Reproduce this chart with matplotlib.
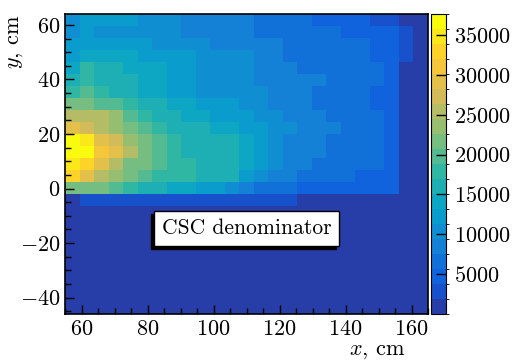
import numpy as np
import matplotlib
matplotlib.use('Agg')
import matplotlib.pyplot as plt
import matplotlib.transforms as mtransforms
from matplotlib.colors import LinearSegmentedColormap, ListedColormap, BoundaryNorm

plt.rcParams['font.family'] = 'serif'
plt.rcParams['font.serif'] = ['cmr10']
plt.rcParams['mathtext.fontset'] = 'cm'
plt.rcParams['axes.formatter.use_mathtext'] = True

# histogram binning (25 x 25)
x_edges = np.linspace(55, 165, 26)
y_edges = np.linspace(-46, 64, 26)

# bin contents in thousands, rows from top (y ~ 62) to bottom (y ~ -44)
counts_k = [
    [10.4, 12.2, 12.2, 12.2, 12.2, 10.4, 10.4, 10.4, 8.5, 8.5, 8.5, 8.5, 8.5, 6.6, 6.6, 6.6, 6.6, 4.7, 4.7, 4.7, 4.7, 2.8, 2.8, 0, 0],
    [10.4, 12.2, 10.4, 10.4, 10.4, 10.4, 10.4, 10.4, 8.5, 8.5, 8.5, 8.5, 8.5, 6.6, 6.6, 6.6, 6.6, 6.6, 6.6, 4.7, 4.7, 4.7, 4.7, 2.8, 0],
    [12.2, 12.2, 12.2, 12.2, 12.2, 12.2, 10.4, 10.4, 10.4, 10.4, 8.5, 8.5, 8.5, 8.5, 8.5, 6.6, 6.6, 6.6, 6.6, 6.6, 6.6, 4.7, 4.7, 2.8, 0],
    [12.2, 14.1, 14.1, 14.1, 14.1, 12.2, 12.2, 12.2, 12.2, 10.4, 10.4, 10.4, 10.4, 8.5, 8.5, 6.6, 6.6, 6.6, 6.6, 6.6, 6.6, 4.7, 4.7, 2.8, 0],
    [14.1, 17.9, 16.0, 16.0, 14.1, 14.1, 14.1, 12.2, 12.2, 10.4, 10.4, 10.4, 10.4, 8.5, 8.5, 8.5, 6.6, 6.6, 6.6, 6.6, 6.6, 6.6, 4.7, 0, 0],
    [16.0, 17.9, 16.0, 16.0, 16.0, 14.1, 14.1, 12.2, 12.2, 10.4, 10.4, 10.4, 10.4, 8.5, 8.5, 8.5, 8.5, 8.5, 6.6, 6.6, 6.6, 6.6, 4.7, 0, 0],
    [17.9, 19.8, 17.9, 16.0, 16.0, 14.1, 14.1, 12.2, 12.2, 10.4, 10.4, 10.4, 10.4, 10.4, 8.5, 8.5, 8.5, 6.6, 6.6, 6.6, 6.6, 4.7, 4.7, 0, 0],
    [21.7, 21.7, 19.8, 19.8, 17.9, 16.0, 16.0, 14.1, 14.1, 12.2, 12.2, 12.2, 10.4, 10.4, 8.5, 8.5, 8.5, 6.6, 6.6, 6.6, 6.6, 4.7, 4.7, 0, 0],
    [25.4, 25.4, 25.4, 23.5, 19.8, 17.9, 16.0, 16.0, 14.1, 14.1, 12.2, 12.2, 12.2, 10.4, 10.4, 8.5, 8.5, 8.5, 6.6, 6.6, 6.6, 6.6, 4.7, 0, 0],
    [29.2, 27.3, 25.4, 23.5, 21.7, 19.8, 17.9, 16.0, 16.0, 16.0, 14.1, 14.1, 12.2, 12.2, 10.4, 10.4, 8.5, 8.5, 8.5, 6.6, 6.6, 6.6, 4.7, 0, 0],
    [36.7, 34.8, 29.2, 27.3, 23.5, 21.7, 19.8, 17.9, 16.0, 16.0, 16.0, 16.0, 14.1, 12.2, 10.4, 8.5, 8.5, 8.5, 6.6, 6.6, 6.6, 6.6, 4.7, 0, 0],
    [37.5, 36.7, 31.1, 29.2, 25.4, 21.7, 19.8, 17.9, 16.0, 16.0, 16.0, 16.0, 14.1, 12.2, 10.4, 8.5, 8.5, 8.5, 6.6, 6.6, 6.6, 6.6, 4.7, 0, 0],
    [34.8, 33.0, 29.2, 25.4, 21.7, 21.7, 19.8, 17.9, 17.9, 16.0, 16.0, 16.0, 14.1, 12.2, 10.4, 8.5, 8.5, 6.6, 6.6, 6.6, 6.6, 6.6, 4.7, 0, 0],
    [33.0, 29.2, 25.4, 23.5, 21.7, 19.8, 17.9, 17.9, 17.9, 16.0, 16.0, 16.0, 12.2, 10.4, 8.5, 8.5, 6.6, 6.6, 6.6, 6.6, 4.7, 4.7, 4.7, 0, 0],
    [21.7, 21.7, 21.7, 19.8, 17.9, 16.0, 16.0, 14.1, 14.1, 12.2, 12.2, 10.4, 8.5, 6.6, 6.6, 6.6, 4.7, 4.7, 4.7, 4.7, 4.7, 4.7, 4.7, 0, 0],
    [0, 2.8, 2.8, 2.8, 2.8, 2.8, 2.8, 2.8, 2.8, 2.8, 2.8, 2.8, 2.8, 2.8, 2.8, 2.8, 0, 0, 0, 0, 0, 0, 0, 0, 0],
]
empty_rows = 9  # rows below y ~ -6 with no entries

z_max = 37650
n_levels = 20
cbar_ticks = [5000, 10000, 15000, 20000, 25000, 30000, 35000]
x_ticks = [60, 80, 100, 120, 140, 160]
y_ticks = [-40, -20, 0, 20, 40, 60]

counts = np.array(counts_k + [[0] * 25] * empty_rows)[::-1] * 1000

# ROOT kBird palette, 20 contour levels
stops = [0.0, 0.125, 0.25, 0.375, 0.5, 0.625, 0.75, 0.875, 1.0]
red = [0.2082, 0.0592, 0.0780, 0.0232, 0.1802, 0.5301, 0.8186, 0.9956, 0.9764]
green = [0.1664, 0.3599, 0.5041, 0.6419, 0.7178, 0.7492, 0.7328, 0.7862, 0.9832]
blue = [0.5293, 0.8684, 0.8385, 0.7914, 0.6425, 0.4662, 0.3499, 0.1968, 0.0539]
bird = LinearSegmentedColormap.from_list('bird', list(zip(stops, zip(red, green, blue))))
cmap = ListedColormap([bird(int((i + 0.99) * 255 / n_levels) / 254) for i in range(n_levels)])
norm = BoundaryNorm(np.linspace(0, z_max, n_levels + 1), n_levels)

fig = plt.figure(figsize=(5.18, 3.62), dpi=100)
ax = fig.add_axes([65 / 518, 48 / 362, 363 / 518, 300 / 362])
mesh = ax.pcolormesh(x_edges, y_edges, counts, cmap=cmap, norm=norm)
ax.set_xlim(55, 165)
ax.set_ylim(-46, 64)

ax.set_xticks(x_ticks)
ax.set_yticks(y_ticks)
ax.set_xticks(np.arange(55, 166, 5), minor=True)
ax.set_yticks(np.arange(-45, 64, 5), minor=True)
ax.tick_params(which='both', direction='in', labelsize=16, width=1)
ax.tick_params(which='major', length=6.5)
ax.tick_params(which='minor', length=4.3)
ax.tick_params(axis='x', pad=4)
ax.tick_params(axis='y', pad=3.5)
for s in ax.spines.values():
    s.set_linewidth(1.2)

fig.text(405 / 518, 1 - 351 / 362, r'$x$, cm', ha='right', va='center', fontsize=16)
fig.text(15 / 518, 1 - 15 / 362, r'$y$, cm', ha='center', va='top', rotation=90, fontsize=16)

# label box with a shadow down and to the left
shadow = mtransforms.offset_copy(ax.transData, fig=fig, x=-3, y=-3, units='dots')
box = dict(boxstyle='square,pad=0.35', lw=1)
ax.text(110, -14.6, 'CSC denominator', ha='center', va='center', fontsize=15.5,
        color='black', transform=shadow, bbox=dict(box, fc='black', ec='black'), zorder=5)
ax.text(110, -14.6, 'CSC denominator', ha='center', va='center', fontsize=15.5,
        bbox=dict(box, fc='white', ec='black'), zorder=6)

cax = fig.add_axes([431 / 518, 48 / 362, 15 / 518, 300 / 362])
cb = fig.colorbar(mesh, cax=cax, ticks=cbar_ticks)
cb.ax.tick_params(direction='in', length=7, width=1, labelsize=16, pad=6)
cb.outline.set_linewidth(0.8)

fig.savefig('out.png', dpi=100)
